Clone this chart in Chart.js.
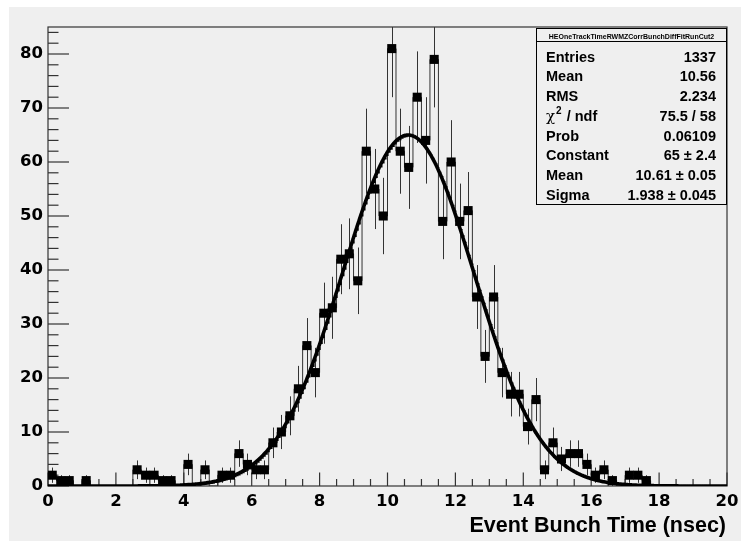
<!DOCTYPE html>
<html>
<head>
<meta charset="utf-8">
<script src="https://cdn.jsdelivr.net/npm/chart.js@4.4.1/dist/chart.umd.min.js"></script>
<style>
  html, body { margin: 0; padding: 0; background: #fff; }
</style>
</head>
<body>
<canvas id="bunch-time" width="741" height="541"></canvas>
<script>
(function () {
  // 80 bins of 0.25 ns from 0 to 20 ns
  const X_MIN = 0;
  const X_MAX = 20;
  const BIN_WIDTH = 0.25;
  const Y_MAX = 85;

  const counts = [
    2, 1, 1, 0, 1, 0, 0, 0, 0, 0,
    3, 2, 2, 1, 1, 0, 4, 0, 3, 0,
    2, 2, 6, 4, 3, 3, 8, 10, 13, 18,
    26, 21, 32, 33, 42, 43, 38, 62, 55, 50,
    81, 62, 59, 72, 64, 79, 49, 60, 49, 51,
    35, 24, 35, 21, 17, 17, 11, 16, 3, 8,
    5, 6, 6, 4, 2, 3, 1, 0, 2, 2,
    1, 0, 0, 0, 0, 0, 0, 0, 0, 0
  ];

  const xTickValues = [0, 2, 4, 6, 8, 10, 12, 14, 16, 18, 20];
  const yTickValues = [0, 10, 20, 30, 40, 50, 60, 70, 80];

  // gaussian fit result
  const fitConstant = 65;
  const fitMean = 10.61;
  const fitSigma = 1.938;

  const histName = "HEOneTrackTimeRWMZCorrBunchDiffFitRunCut2";
  const statLabels = ["Entries", "Mean", "RMS", "χ^2 / ndf", "Prob", "Constant", "Mean", "Sigma"];
  const statValues = ["1337", "10.56", "2.234", "75.5 / 58", "0.06109", "65 ± 2.4", "10.61 ± 0.05", "1.938 ± 0.045"];
  const xTitle = "Event Bunch Time (nsec)";

  const PAD_COLOR = "#efefef";
  const LINE_COLOR = "#333";
  const TICK_FONT = { family: "DejaVu Sans", weight: "bold", size: 16.5 };

  function binCenter(i) { return X_MIN + (i + 0.5) * BIN_WIDTH; }

  const stepPoints = [{ x: X_MIN, y: counts[0] }];
  const markerPoints = [];
  counts.forEach(function (n, i) {
    stepPoints.push({ x: binCenter(i), y: n });
    if (n > 0) markerPoints.push({ x: binCenter(i), y: n });
  });
  stepPoints.push({ x: X_MAX, y: counts[counts.length - 1] });

  const fitPoints = [];
  for (let k = 0; k <= 1000; k++) {
    const x = X_MIN + (X_MAX - X_MIN) * k / 1000;
    const z = (x - fitMean) / fitSigma;
    fitPoints.push({ x: x, y: fitConstant * Math.exp(-0.5 * z * z) });
  }

  function line(c, x1, y1, x2, y2) {
    c.beginPath();
    c.moveTo(x1, y1);
    c.lineTo(x2, y2);
    c.stroke();
  }

  const rootPad = {
    id: "rootPad",
    beforeDraw(chart) {
      const c = chart.ctx;
      c.save();
      c.fillStyle = "#fff";
      c.fillRect(0, 0, chart.width, chart.height);
      c.fillStyle = PAD_COLOR;
      c.fillRect(9, 7, chart.width - 9, chart.height - 7);
      c.restore();
    },
    beforeDatasetsDraw(chart) {
      const c = chart.ctx;
      const a = chart.chartArea;
      const xs = chart.scales.x;
      const ys = chart.scales.y;
      c.save();
      c.strokeStyle = LINE_COLOR;
      c.lineWidth = 1.2;

      // frame
      c.strokeRect(a.left, a.top, a.right - a.left, a.bottom - a.top);

      // ticks point into the frame: x every 0.5, y every 2
      for (let i = 0; i <= 40; i++) {
        const v = i * 0.5;
        const px = xs.getPixelForValue(v);
        line(c, px, a.bottom, px, a.bottom - (i % 4 === 0 ? 13.5 : 7));
      }
      for (let v = 0; v < Y_MAX; v += 2) {
        const py = ys.getPixelForValue(v);
        line(c, a.left, py, a.left + (v % 10 === 0 ? 21 : 10.5), py);
      }

      // error bars, sqrt(N)
      c.beginPath();
      c.rect(a.left, a.top, a.right - a.left, a.bottom - a.top);
      c.clip();
      c.lineWidth = 1;
      counts.forEach(function (n, i) {
        if (n <= 0) return;
        const px = Math.round(xs.getPixelForValue(binCenter(i))) + 0.5;
        const e = Math.sqrt(n);
        line(c, px, ys.getPixelForValue(n - e), px, ys.getPixelForValue(n + e));
      });
      c.restore();
    },
    afterDraw(chart) {
      const c = chart.ctx;
      const a = chart.chartArea;
      c.save();

      // axis title
      c.fillStyle = "#000";
      c.font = "bold 21.5px 'Liberation Sans', Arial, sans-serif";
      c.textAlign = "right";
      c.textBaseline = "alphabetic";
      c.fillText(xTitle, a.right - 1, 531.5);

      // stats box
      const bx = 536, by = 28, bw = a.right - bx, bh = 177;
      c.fillStyle = PAD_COLOR;
      c.fillRect(bx, by, bw, bh);
      c.strokeStyle = "#000";
      c.lineWidth = 1;
      c.strokeRect(bx + 0.5, by + 0.5, bw - 1, bh - 1);
      line(c, bx, 41.5, bx + bw, 41.5);

      c.fillStyle = "#000";
      c.textAlign = "center";
      c.font = "bold 7px 'Liberation Sans', Arial, sans-serif";
      c.fillText(histName, bx + bw / 2, 39, bw - 20);

      const rowFont = "bold 14.5px 'Liberation Sans', Arial, sans-serif";
      statLabels.forEach(function (label, i) {
        const y = 61.7 + i * 19.75;
        c.font = rowFont;
        c.textAlign = "left";
        const sup = label.indexOf("^");
        if (sup < 0) {
          c.fillText(label, bx + 10, y);
        } else {
          // chi with a raised 2
          let x = bx + 10;
          c.font = "15px 'DejaVu Serif', serif";
          c.fillText(label.slice(0, sup), x, y);
          x += c.measureText(label.slice(0, sup)).width + 1;
          c.font = "bold 10px 'Liberation Sans', Arial, sans-serif";
          c.fillText(label.charAt(sup + 1), x, y - 7);
          x += c.measureText(label.charAt(sup + 1)).width + 1;
          c.font = rowFont;
          c.fillText(label.slice(sup + 2), x, y);
        }
        c.textAlign = "right";
        c.fillText(statValues[i], bx + bw - 11, y);
      });
      c.restore();
    }
  };

  new Chart(document.getElementById("bunch-time").getContext("2d"), {
    type: "scatter",
    data: {
      datasets: [
        {
          type: "line",
          label: "hist",
          data: stepPoints,
          stepped: "middle",
          borderColor: LINE_COLOR,
          borderWidth: 1,
          pointRadius: 0,
          clip: 0,
          order: 3
        },
        {
          type: "scatter",
          label: "entries",
          data: markerPoints,
          pointStyle: "rect",
          pointRadius: 6.4,
          pointBorderWidth: 0,
          pointBackgroundColor: "#000",
          clip: 0,
          order: 2
        },
        {
          type: "line",
          label: "gaus",
          data: fitPoints,
          borderColor: "#000",
          borderWidth: 3.6,
          pointRadius: 0,
          tension: 0,
          clip: 0,
          order: 1
        }
      ]
    },
    options: {
      responsive: false,
      animation: false,
      events: [],
      layout: { padding: { top: 27, right: 14, left: 0, bottom: 0 } },
      plugins: { legend: { display: false }, tooltip: { enabled: false } },
      scales: {
        x: {
          type: "linear",
          min: X_MIN,
          max: X_MAX,
          afterBuildTicks: function (s) { s.ticks = xTickValues.map(function (v) { return { value: v }; }); },
          afterFit: function (s) { s.height = 55; s.paddingLeft = 0; s.paddingRight = 0; },
          grid: { display: false, drawTicks: false },
          border: { display: false },
          ticks: { font: TICK_FONT, color: "#000", padding: 6, maxRotation: 0, autoSkip: false }
        },
        y: {
          min: 0,
          max: Y_MAX,
          afterBuildTicks: function (s) { s.ticks = yTickValues.map(function (v) { return { value: v }; }); },
          afterFit: function (s) { s.width = 48; s.paddingTop = 0; s.paddingBottom = 0; },
          grid: { display: false, drawTicks: false },
          border: { display: false },
          ticks: { font: TICK_FONT, color: "#000", padding: 5 }
        }
      }
    },
    plugins: [rootPad]
  });
})();
</script>
</body>
</html>
